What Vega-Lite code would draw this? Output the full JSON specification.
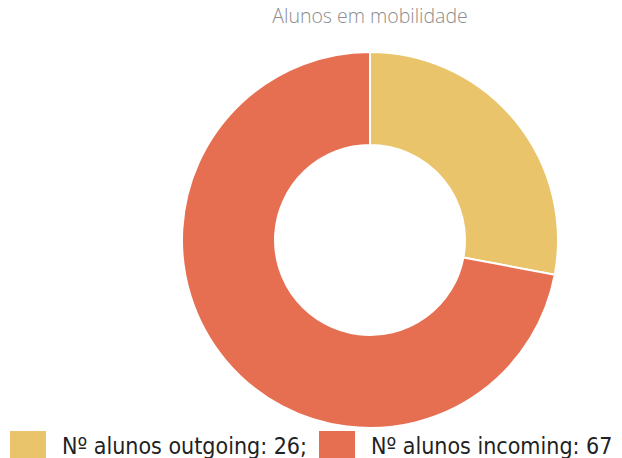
{
  "$schema": "https://vega.github.io/schema/vega-lite/v6.json",
  "autosize": {"type": "none"},
  "width": 504,
  "height": 376,
  "padding": {"left": 118, "top": 52, "right": 0, "bottom": 30},
  "background": "white",
  "title": {
    "text": "Alunos em mobilidade",
    "anchor": "middle",
    "frame": "group",
    "offset": 21,
    "font": "Open Sans",
    "fontSize": 19.5,
    "fontWeight": 300,
    "color": "#8c8c8c"
  },
  "data": {
    "values": [
      {"label": "Nº alunos outgoing: 26;", "value": 26, "ord": 1},
      {"label": "Nº alunos incoming: 67", "value": 67, "ord": 2}
    ]
  },
  "mark": {"type": "arc", "outerRadius": 188, "innerRadius": 95, "stroke": "white", "strokeWidth": 2},
  "encoding": {
    "theta": {"field": "value", "type": "quantitative", "stack": true},
    "order": {"field": "ord", "type": "quantitative"},
    "color": {
      "field": "label",
      "type": "nominal",
      "scale": {"domain": ["Nº alunos outgoing: 26;", "Nº alunos incoming: 67"], "range": ["#E9C46A", "#E76F51"]},
      "legend": {
        "title": null,
        "orient": "none",
        "legendX": -108,
        "legendY": 384,
        "direction": "horizontal",
        "columns": 2,
        "symbolType": "M-1,-1.278H1V0.722H-1Z",
        "symbolSize": 1296,
        "symbolStrokeWidth": 0,
        "symbolOpacity": 1,
        "labelFont": "DejaVu Sans Condensed",
        "labelFontSize": 23,
        "labelBaseline": "alphabetic",
        "labelColor": "#222222",
        "labelOffset": 16,
        "labelLimit": 400,
        "columnPadding": 12,
        "padding": 0
      }
    }
  },
  "config": {"view": {"stroke": null}}
}
